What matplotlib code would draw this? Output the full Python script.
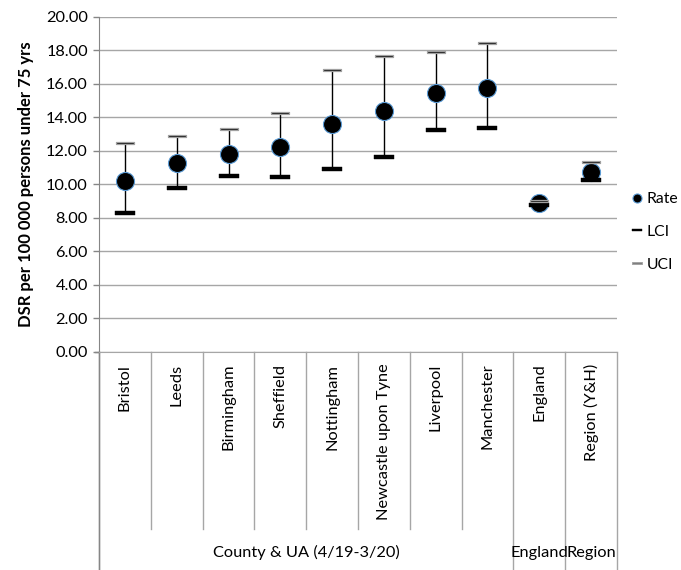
import matplotlib.pyplot as plt
from matplotlib.lines import Line2D
import matplotlib.transforms as mtransforms

plt.rcParams['font.family'] = ['Lato', 'DejaVu Sans']

# directly standardised rates with 95% confidence limits
areas = ['Bristol', 'Leeds', 'Birmingham', 'Sheffield', 'Nottingham',
         'Newcastle upon Tyne', 'Liverpool', 'Manchester', 'England', 'Region (Y&H)']
rate = [10.21, 11.27, 11.84, 12.24, 13.63, 14.41, 15.44, 15.74, 8.91, 10.76]
lci = [8.28, 9.77, 10.51, 10.43, 10.93, 11.66, 13.25, 13.37, 8.80, 10.27]
uci = [12.46, 12.92, 13.31, 14.25, 16.82, 17.67, 17.93, 18.47, 9.03, 11.32]

# outer axis groups: (label, number of areas)
groups = [('County & UA (4/19-3/20)', 8), ('England', 1), ('Region', 1)]
y_ticks = [0, 2, 4, 6, 8, 10, 12, 14, 16, 18, 20]

GRID = '#a6a6a6'
AXIS = '#868686'
FS = 11.8

fig = plt.figure(figsize=(6.81, 5.70), dpi=100)
ax = fig.add_axes([0.1454, 0.3825, 0.7606, 0.5877])

x = list(range(len(areas)))

# high-low lines
ax.vlines(x, lci, uci, color='black', linewidth=1.0, zorder=3)

bar_lci = [(-1, -0.24), (1, -0.24), (1, 0.24), (-1, 0.24), (-1, -0.24)]
bar_uci = [(-1, -0.14), (1, -0.14), (1, 0.14), (-1, 0.14), (-1, -0.14)]

ax.plot(x, rate, linestyle='none', marker='o', markersize=13,
        markerfacecolor='black', markeredgecolor='#5b9bd5', markeredgewidth=0.8, zorder=4)
ax.plot(x, lci, linestyle='none', marker=bar_lci, markersize=14.2,
        markerfacecolor='black', markeredgecolor='black', markeredgewidth=0.3, zorder=5)
ax.plot(x, uci, linestyle='none', marker=bar_uci, markersize=13.4,
        markerfacecolor='#111111', markeredgecolor='#a0a0a0', markeredgewidth=0.9, zorder=6)

ax.set_xlim(-0.5, len(areas) - 0.5)
ax.set_ylim(0, 20)
ax.set_yticks(y_ticks)
ax.set_yticklabels([f'{v:.2f}' for v in y_ticks], fontsize=FS)
ax.yaxis.grid(True, color=GRID, linewidth=1.0)
ax.set_axisbelow(True)
ax.tick_params(axis='y', length=4, color=AXIS, width=1, pad=4)

for side in ['top', 'right']:
    ax.spines[side].set_visible(False)
ax.spines['left'].set_color(AXIS)
ax.spines['bottom'].set_color(GRID)

ax.set_ylabel('DSR per 100 000 persons under 75 yrs', fontsize=12, fontweight='bold', labelpad=9)

# category labels and separators beneath the plot
ax.set_xticks([])
trans = mtransforms.blended_transform_factory(ax.transData, ax.transAxes)
for i, name in enumerate(areas):
    ax.text(i, -0.035, name, rotation=90, ha='center', va='top', fontsize=FS,
            transform=trans)

inner_bottom = -0.528
outer_bottom = -0.66
start = 0
group_edges = [-0.5]
for label, n in groups:
    stop = start + n
    group_edges.append(stop - 0.5)
    ax.text((start + stop - 1) / 2, -0.6, label, ha='center', va='center',
            fontsize=FS, transform=trans)
    start = stop

for k in range(len(areas) + 1):
    edge = k - 0.5
    y_end = outer_bottom if edge in group_edges else inner_bottom
    ax.add_line(Line2D([edge, edge], [0, y_end], color=GRID, linewidth=1.0,
                       transform=trans, clip_on=False))
ax.add_line(Line2D([-0.5, -0.5], [0, outer_bottom], color=AXIS, linewidth=1.0,
                   transform=trans, clip_on=False))
ax.add_line(Line2D([-0.58, -0.5], [0, 0], color=AXIS, linewidth=1.0,
                   transform=trans, clip_on=False))

handles = [
    Line2D([], [], linestyle='none', marker='o', markersize=6.5, markerfacecolor='black',
           markeredgecolor='#5b9bd5', markeredgewidth=0.8),
    Line2D([], [], linestyle='none', marker=bar_lci, markersize=7, markerfacecolor='black',
           markeredgecolor='black', markeredgewidth=0.3),
    Line2D([], [], linestyle='none', marker=bar_uci, markersize=7, markerfacecolor='#7f7f7f',
           markeredgecolor='#a0a0a0', markeredgewidth=0.6),
]
fig.legend(handles, ['Rate', 'LCI', 'UCI'], loc='center left',
           bbox_to_anchor=(0.917, 0.593), frameon=False, fontsize=11.3,
           handlelength=0.6, handletextpad=0.3, labelspacing=1.2, borderpad=0)

fig.savefig('out.png', dpi=100)
